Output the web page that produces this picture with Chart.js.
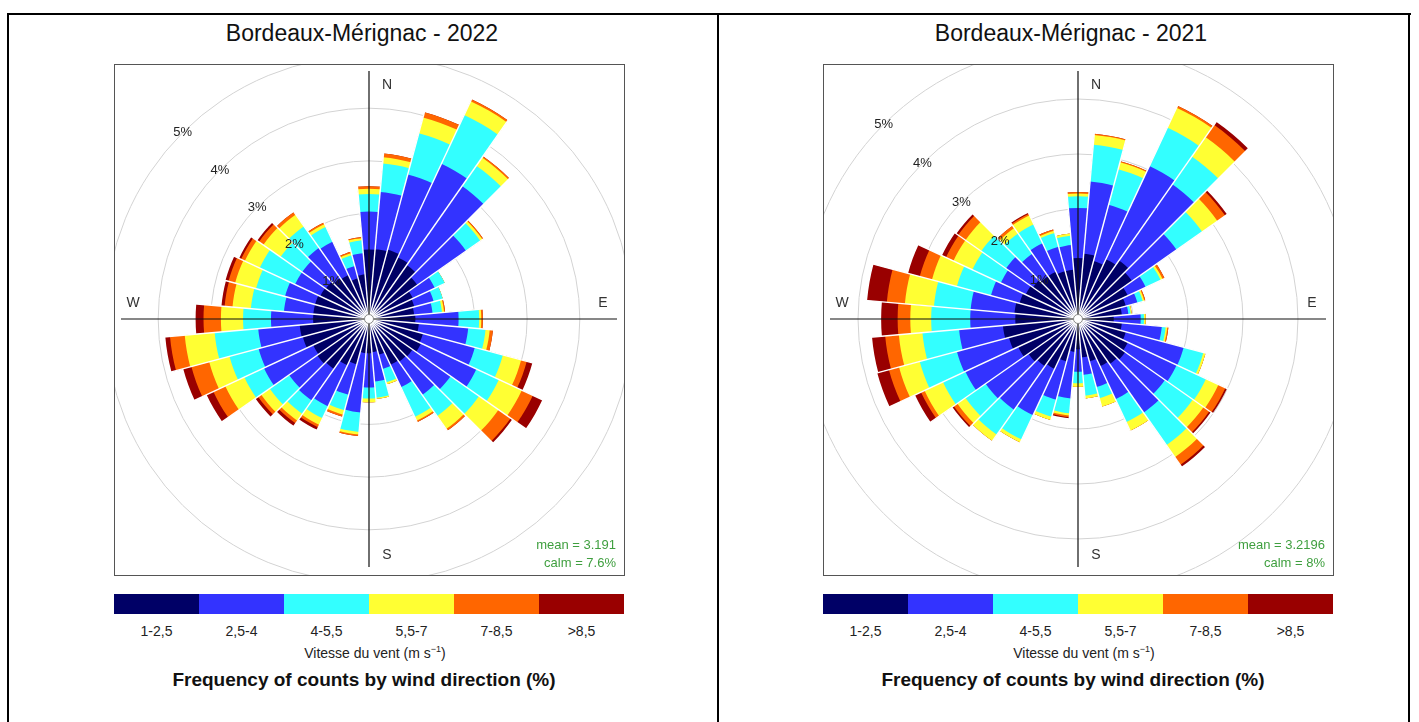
<!DOCTYPE html>
<html>
<head>
<meta charset="utf-8">
<script src="https://cdn.jsdelivr.net/npm/chart.js@4.4.0/dist/chart.umd.min.js"></script>
<style>
body { margin:0; width:1419px; height:722px; background:#fff; position:relative; overflow:hidden; font-family:'Liberation Sans', Arial, sans-serif; color:#111; }
.line { position:absolute; background:#000; }
.title { position:absolute; width:600px; text-align:center; font-size:23px; line-height:26px; top:20px; }
.box { position:absolute; top:64px; width:511px; height:512px; box-sizing:border-box; border:1px solid #555; overflow:hidden; }
.box canvas { position:absolute; left:-126px; top:-126px; }
.stat { position:absolute; width:200px; text-align:right; font-size:13px; line-height:16px; color:#3f9f3f; }
.bar { position:absolute; top:594px; width:510px; height:20px; display:flex; }
.bar div { flex:1; }
.lab { position:absolute; top:623px; width:85px; text-align:center; font-size:14px; line-height:16px; color:#222; }
.unit { position:absolute; top:645px; width:300px; text-align:center; font-size:14px; line-height:16px; color:#222; }
.unit sup { font-size:9px; line-height:0; vertical-align:6px; }
.caption { position:absolute; top:669px; width:500px; text-align:center; font-size:19px; line-height:22px; font-weight:bold; }
</style>
</head>
<body>
<div class="line" style="left:7px;top:13px;width:1404px;height:2px"></div>
<div class="line" style="left:7px;top:13px;width:2px;height:720px"></div>
<div class="line" style="left:717px;top:13px;width:2px;height:720px"></div>
<div class="line" style="left:1408px;top:13px;width:2px;height:720px"></div>
<div id="page"></div>

<script>
// wind directions (bin centres, degrees from north)
const directions = ['N','10','20','30','40','50','60','70','80','E','100','110','120','130','140','150','160','170',
  'S','190','200','210','220','230','240','250','260','W','280','290','300','310','320','330','340','350'];
const speedBins = ['1-2,5', '2,5-4', '4-5,5', '5,5-7', '7-8,5', '>8,5'];
const binColors = ['#000066', '#3333ff', '#33ffff', '#ffff33', '#ff6600', '#990000'];
const gridTicks = [1, 2, 3, 4, 5];

// 2022, frequency (%) per direction for each speed bin
const f2022_1 = [1.32,1.33,1.36,1.29,1.25,1.12,0.92,0.89,0.86,0.88,0.95,1.06,1.09,1.01,0.99,0.96,0.70,0.63,0.65,0.65,0.89,0.97,1.16,1.20,1.17,1.30,1.32,1.06,1.06,1.06,1.02,1.00,0.95,0.92,0.80,0.85];
const f2022_2 = [0.72,1.09,1.48,1.96,1.83,1.13,0.46,0.38,0.35,0.82,0.94,1.02,1.16,0.88,0.77,0.47,0.28,0.56,0.65,1.13,0.60,0.86,0.73,0.65,1.03,0.87,0.79,0.80,0.56,0.59,0.53,0.55,0.70,0.70,0.24,0.40];
const f2022_3 = [0.33,0.54,0.81,1.02,0.47,0.33,0.21,0.18,0.18,0.39,0.33,0.55,0.47,0.66,0.49,0.62,0.26,0.31,0.21,0.37,0.30,0.25,0.31,0.45,0.41,0.57,0.83,0.53,0.63,0.57,0.74,0.50,0.50,0.31,0.21,0.25];
const f2022_4 = [0.10,0.12,0.31,0.29,0.19,0.05,0,0,0.04,0.04,0.08,0.36,0.48,0.45,0.30,0.08,0.04,0.02,0.07,0.05,0.09,0.14,0.16,0.20,0.40,0.40,0.57,0.42,0.35,0.41,0.31,0.40,0.27,0.06,0.04,0.04];
const f2022_5 = [0.05,0.07,0.10,0.04,0.03,0.02,0,0,0.02,0.03,0.06,0.11,0.23,0.28,0.04,0.03,0,0,0,0.03,0.04,0.05,0.06,0.07,0.25,0.35,0.28,0.33,0.15,0.13,0.08,0.10,0.06,0.03,0.03,0.02];
const f2022_6 = [0,0,0,0,0,0,0,0,0,0,0,0.11,0.20,0.04,0,0,0,0,0,0,0,0.05,0.06,0.06,0.14,0.16,0.09,0.15,0.06,0.06,0.04,0.04,0,0,0,0];

// 2021
const f2021_1 = [1.11,1.19,1.09,1.20,1.30,1.20,1.00,0.90,0.80,0.65,0.80,0.90,1.00,1.05,1.00,0.95,0.80,0.70,0.55,0.60,0.80,1.00,1.05,1.10,1.20,1.30,1.37,1.14,1.16,1.10,1.05,1.00,0.95,0.95,0.90,0.90];
const f2021_2 = [0.91,1.32,1.06,1.87,1.69,0.99,0.36,0.22,0.12,0.49,0.73,1.09,0.98,0.88,1.08,0.66,0.48,0.32,0.41,0.85,0.72,0.93,0.97,0.95,1.06,0.98,0.80,0.82,0.80,0.54,0.50,0.60,0.50,0.57,0.46,0.45];
const f2021_3 = [0.21,0.67,0.67,0.77,0.62,0.57,0.30,0.10,0.04,0.06,0.07,0.37,0.59,0.62,0.72,0.46,0.21,0.38,0.21,0.27,0.32,0.49,0.55,0.45,0.45,0.70,0.67,0.71,0.67,0.64,0.57,0.55,0.45,0.38,0.26,0.17];
const f2021_4 = [0.05,0.18,0.13,0.40,0.43,0.34,0.04,0.03,0.02,0.03,0.03,0.04,0.25,0.24,0.27,0.17,0.16,0.05,0.06,0.04,0.06,0.06,0.14,0.18,0.37,0.39,0.43,0.38,0.53,0.47,0.38,0.35,0.12,0.18,0.04,0.04];
const f2021_5 = [0.03,0.02,0.02,0.04,0.27,0.17,0.04,0.02,0,0,0.02,0,0.14,0.13,0.17,0,0,0,0,0.03,0,0,0,0.08,0.07,0.19,0.25,0.23,0.33,0.23,0.15,0.16,0.05,0.03,0.03,0];
const f2021_6 = [0,0,0,0,0.07,0.04,0,0,0,0,0,0,0.03,0.03,0.04,0,0,0,0,0.02,0,0,0,0.03,0.12,0.22,0.24,0.30,0.36,0.22,0.08,0.04,0,0.02,0,0];

// gaps, cross, centre and labels on top of the bars
const rosePlugin = {
  id: 'rose',
  afterDatasetsDraw(chart) {
    const ctx = chart.ctx;
    const s = chart.scales.r;
    const cx = s.xCenter, cy = s.yCenter;
    const outer = chart.data.datasets[chart.data.datasets.length - 1].data;
    const n = outer.length;
    ctx.save();

    ctx.strokeStyle = '#fff';
    ctx.lineWidth = 1.4;
    for (let k = 0; k < n; k++) {
      const len = Math.max(s.getDistanceFromCenterForValue(outer[k]),
                           s.getDistanceFromCenterForValue(outer[(k + n - 1) % n])) + 2;
      const a = (s.options.startAngle + k * 360 / n - 90) * Math.PI / 180;
      ctx.beginPath();
      ctx.moveTo(cx, cy);
      ctx.lineTo(cx + len * Math.cos(a), cy + len * Math.sin(a));
      ctx.stroke();
    }

    ctx.strokeStyle = '#111';
    ctx.lineWidth = 1.2;
    ctx.beginPath();
    ctx.moveTo(cx - 248, cy); ctx.lineTo(cx + 248, cy);
    ctx.moveTo(cx, cy - 248); ctx.lineTo(cx, cy + 248);
    ctx.stroke();

    ctx.beginPath();
    ctx.arc(cx, cy, 4.5, 0, Math.PI * 2);
    ctx.fillStyle = '#fff';
    ctx.fill();
    ctx.strokeStyle = '#888';
    ctx.lineWidth = 1;
    ctx.stroke();

    ctx.textAlign = 'center';
    ctx.textBaseline = 'middle';
    ctx.fillStyle = '#333';
    ctx.font = "14px 'Liberation Sans', Arial, sans-serif";
    ctx.fillText('N', cx + 18, cy - 234);
    ctx.fillText('S', cx + 18, cy + 236);
    ctx.fillText('E', cx + 234, cy - 16);
    ctx.fillText('W', cx - 236, cy - 16);

    ctx.fillStyle = '#222';
    ctx.font = "13px 'Liberation Sans', Arial, sans-serif";
    gridTicks.forEach(v => {
      const r = s.getDistanceFromCenterForValue(v) * Math.SQRT1_2;
      ctx.fillText(v + '%', cx - r, cy - r);
    });
    ctx.restore();
  }
};

function drawRose(canvas, rows, rMax) {
  const stacks = [];
  let run = rows[0].map(() => 0);
  rows.forEach(row => {
    run = run.map((v, i) => v + row[i]);
    stacks.push(run);
  });
  new Chart(canvas, {
    type: 'polarArea',
    data: {
      labels: directions,
      datasets: stacks.map((d, k) => ({
        label: speedBins[k],
        data: d,
        backgroundColor: binColors[k],
        borderWidth: 0
      }))
    },
    options: {
      responsive: false,
      animation: false,
      layout: { padding: 0 },
      plugins: { legend: { display: false }, tooltip: { enabled: false } },
      scales: {
        r: {
          min: 0,
          max: rMax,
          startAngle: -5,
          ticks: { display: false, stepSize: 1 },
          grid: { color: c => (c.tick && c.tick.value <= 5) ? '#d3d3d3' : 'rgba(0,0,0,0)', lineWidth: 1 },
          angleLines: { display: false },
          pointLabels: { display: false }
        }
      }
    },
    plugins: [rosePlugin]
  });
}

function panel(ox, year, rows, rMax, mean, calm) {
  const page = document.getElementById('page');
  const wrap = document.createElement('div');
  let html = '';
  html += `<div class="title" style="left:${ox + 62}px">Bordeaux-Mérignac - ${year}</div>`;
  html += `<div class="box" style="left:${ox + 114}px"><canvas width="760" height="760"></canvas></div>`;
  html += `<div class="stat" style="left:${ox + 416}px;top:537px">mean = ${mean}</div>`;
  html += `<div class="stat" style="left:${ox + 416}px;top:555px">calm = ${calm}%</div>`;
  html += `<div class="bar" style="left:${ox + 114}px">` + binColors.map(c => `<div style="background:${c}"></div>`).join('') + '</div>';
  speedBins.forEach((b, i) => {
    html += `<div class="lab" style="left:${ox + 114 + i * 85}px">${b}</div>`;
  });
  html += `<div class="unit" style="left:${ox + 225}px">Vitesse du vent (m s<sup>−1</sup>)</div>`;
  html += `<div class="caption" style="left:${ox + 114}px">Frequency of counts by wind direction (%)</div>`;
  wrap.innerHTML = html;
  page.appendChild(wrap);
  drawRose(wrap.querySelector('canvas'), rows, rMax);
}

panel(0, '2022', [f2022_1, f2022_2, f2022_3, f2022_4, f2022_5, f2022_6], 7.21, '3.191', '7.6');
panel(709, '2021', [f2021_1, f2021_2, f2021_3, f2021_4, f2021_5, f2021_6], 6.91, '3.2196', '8');
</script>
</body>
</html>
